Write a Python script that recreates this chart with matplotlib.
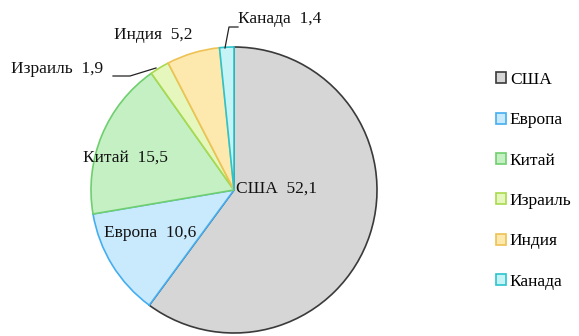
import matplotlib
matplotlib.use("Agg")
import matplotlib.pyplot as plt
from matplotlib.lines import Line2D

labels = ["США", "Европа", "Китай", "Израиль", "Индия", "Канада"]
values = [52.1, 10.6, 15.5, 1.9, 5.2, 1.4]
value_text = ["52,1", "10,6", "15,5", "1,9", "5,2", "1,4"]
fills = ["#d6d6d6", "#c9e9fd", "#c4f0c4", "#e6f7bd", "#fde8ae", "#c6f3f6"]
edges = ["#3a3a3a", "#45aef0", "#6fcf6f", "#a9d94e", "#eec255", "#2cc4cc"]

plt.rcParams['font.family'] = ['Liberation Serif', 'DejaVu Serif']
W, H = 579, 336
fig = plt.figure(figsize=(W / 100, H / 100), dpi=100)
cx, cy, r = 234, 190, 143
ax = fig.add_axes([(cx - r) / W, (H - cy - r) / H, 2 * r / W, 2 * r / H])
wedges, _ = ax.pie(values, startangle=90, counterclock=False, colors=fills,
                   wedgeprops=dict(linewidth=1.2), radius=1.0)
for w, e in zip(wedges, edges):
    w.set_edgecolor(e)
ax.set_xlim(-1.0, 1.0)
ax.set_ylim(-1.0, 1.0)
ax.set_aspect('equal')
ax.axis('off')

def fx(x):
    return x / W

def fy(y):
    return 1 - y / H

fs = 12.5
pos = {
    "США": (236, 189),
    "Европа": (104, 233),
    "Китай": (83, 158),
    "Израиль": (11, 69),
    "Индия": (114, 35),
    "Канада": (238, 19),
}
for lab, vt in zip(labels, value_text):
    x, y = pos[lab]
    fig.text(fx(x), fy(y), f"{lab}  {vt}", fontsize=fs, ha='left', va='center', color='#111111')

# leader lines
fig.add_artist(Line2D([fx(113), fx(130), fx(156)], [fy(76), fy(76), fy(68)], color='#222222', lw=0.9))
fig.add_artist(Line2D([fx(225), fx(229), fx(238)], [fy(48), fy(27), fy(27)], color='#222222', lw=0.9))

leg = fig.legend(wedges, labels, loc='upper left', bbox_to_anchor=(fx(496), fy(72)),
                 frameon=False, fontsize=fs, handlelength=0.6, handleheight=0.6,
                 handletextpad=0.2, labelspacing=1.4, borderaxespad=0, borderpad=0)

fig.savefig("out.png", dpi=100)
